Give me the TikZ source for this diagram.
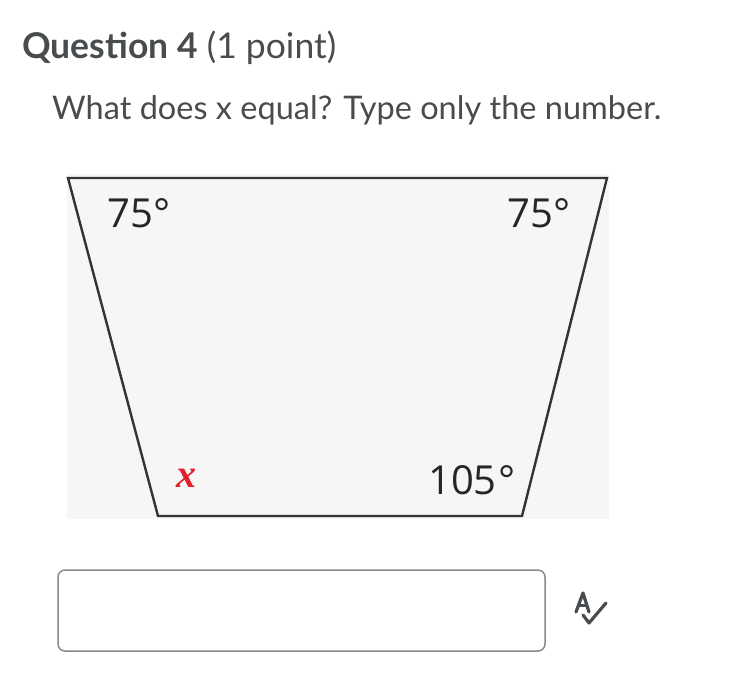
\documentclass[tikz,border=0pt]{standalone}
\usepackage{fontspec}
\usetikzlibrary{calc}
\setmainfont{Lato}
\newfontfamily\figfont{Open Sans}
\newfontfamily\xfont{Liberation Serif}
\definecolor{txt}{HTML}{494C4E}
\definecolor{figbg}{HTML}{F6F6F6}
\definecolor{boxline}{HTML}{8A8A8A}
\definecolor{xred}{HTML}{E0202A}
\begin{document}
\begin{tikzpicture}[x=1pt,y=-1pt,
  anglelbl/.style={font=\figfont\fontsize{40}{40}\selectfont, text=black!85, inner sep=0pt},
  heading/.style={anchor=base west, inner sep=0pt, text=txt}]
\useasboundingbox (0,0) rectangle (734,690);
\fill[white] (0,0) rectangle (734,690);
% question text
\node[heading, font=\fontsize{35.5}{36}\selectfont] (q) at (22,59) {\textbf{Question 4} (1 point)};
\node[heading, font=\fontsize{32.5}{33}\selectfont] (p) at (52,120) {What does x equal? Type only the number.};
% figure
\fill[figbg] (67,174) rectangle (609,519);
\coordinate (TL) at (68,178);
\coordinate (TR) at (607,178);
\coordinate (BR) at (522,516);
\coordinate (BL) at (158,516);
\draw[line width=2.4pt, black!80, line join=miter] (TL) -- (TR) -- (BR) -- (BL) -- cycle;
\node[anglelbl] (a1) at (139,213) {75°};
\node[anglelbl] (a2) at (539,213) {75°};
\node[anglelbl] (a3) at (472,480) {105\kern2pt°};
\node[inner sep=0pt, text=xred, font=\xfont\bfseries\itshape\fontsize{40}{40}\selectfont] (x) at (186,478) {x};
% answer box
\draw[boxline, line width=1.5pt, rounded corners=7pt] (58,570) rectangle (545,651);
% icon
\coordinate (Aap) at (583,593);
\coordinate (Al) at (576,612);
\coordinate (Ar) at (589,612);
\coordinate (c1) at (583,615);
\coordinate (c2) at (589,623);
\coordinate (c3) at (606,603);
\draw[txt, line width=3.2pt, line cap=round, line join=round] (Al) -- (Aap) -- (Ar);
\draw[txt, line width=3pt] ($(Al)!0.35!(Aap)$) -- ($(Ar)!0.35!(Aap)$);
\draw[txt, line width=3.2pt, line cap=round, line join=round] (c1) -- (c2) -- (c3);
\end{tikzpicture}
\end{document}
